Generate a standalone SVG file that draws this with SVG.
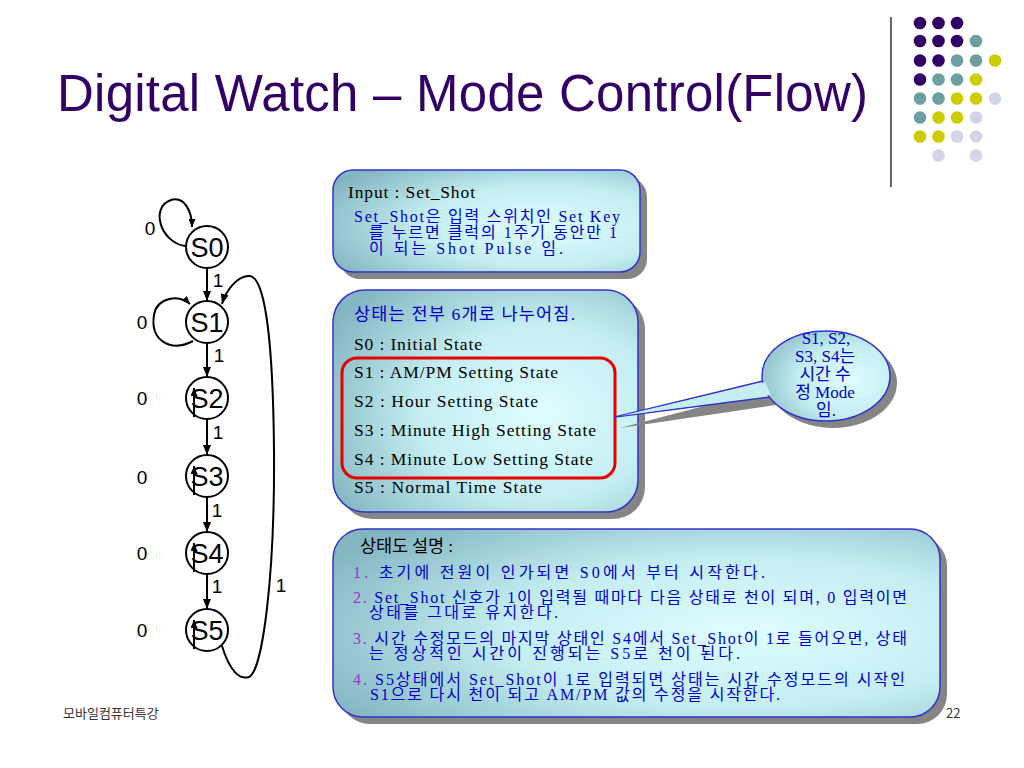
<svg xmlns="http://www.w3.org/2000/svg" width="1024" height="768" viewBox="0 0 1024 768">
<defs>
<radialGradient id="boxFill" cx="0.68" cy="0.55" r="0.78">
<stop offset="0" stop-color="#DFFDFF"/>
<stop offset="0.5" stop-color="#C4EEF2"/>
<stop offset="1" stop-color="#84B6C2"/>
</radialGradient>
<marker id="arr" markerWidth="10" markerHeight="8" refX="10" refY="4" orient="auto" markerUnits="userSpaceOnUse">
<path d="M0,0 L10,4 L0,8 Z" fill="#000"/>
</marker>
<marker id="arrS" markerWidth="8" markerHeight="7" refX="8" refY="3.5" orient="auto" markerUnits="userSpaceOnUse">
<path d="M0,0 L8,3.5 L0,7 Z" fill="#000"/>
</marker>
</defs>
<style>
.title{font-family:"Liberation Sans",Arial,sans-serif;font-size:51px;fill:#330066}
.st{font-family:"Liberation Sans",Arial,sans-serif;font-size:27px;fill:#000;text-anchor:middle}
.lbl{font-family:"Liberation Sans",Arial,sans-serif;font-size:19px;fill:#000;text-anchor:middle}
.node{fill:#fff;stroke:#000;stroke-width:2}
.edge{fill:none;stroke:#000;stroke-width:2}
.shadow{fill:#858585}
.box{fill:url(#boxFill);stroke:#3333CC;stroke-width:1.5}
.tk{font-family:"Liberation Serif","Noto Sans CJK KR",serif;font-size:17.5px;fill:#000}
.tbl{font-family:"Liberation Serif","Noto Sans CJK KR",serif;font-size:17.5px;fill:#0000CC}
.sm{font-size:16px}
.num{fill:#9933CC}
.call{font-family:"Liberation Serif","Noto Sans CJK KR",serif;font-size:17px;fill:#0000CC;text-anchor:middle}
.foot{font-family:"Noto Sans CJK KR","Liberation Sans",sans-serif;font-size:13px;fill:#333}
.p{fill:#330066}.t{fill:#6B9FA0}.y{fill:#CCCC00}.l{fill:#D4D4E8}
</style>
<rect width="1024" height="768" fill="#fff"/>

<g id="title">
<text class="title" x="57" y="111" textLength="811">Digital Watch – Mode Control(Flow)</text>
</g>

<g id="decoration">
<line x1="891" y1="17" x2="891" y2="187" stroke="#333" stroke-width="1.5"/>
<g>
<circle class="p" cx="920" cy="23" r="6.3"/><circle class="p" cx="938.5" cy="23" r="6.3"/><circle class="p" cx="957" cy="23" r="6.3"/>
<circle class="p" cx="920" cy="41" r="6.3"/><circle class="p" cx="938.5" cy="41" r="6.3"/><circle class="p" cx="957" cy="41" r="6.3"/><circle class="t" cx="976" cy="41" r="6.3"/>
<circle class="p" cx="920" cy="60.5" r="6.3"/><circle class="p" cx="938.5" cy="60.5" r="6.3"/><circle class="t" cx="957" cy="60.5" r="6.3"/><circle class="t" cx="976" cy="60.5" r="6.3"/><circle class="y" cx="995" cy="60.5" r="6.3"/>
<circle class="p" cx="920" cy="79.5" r="6.3"/><circle class="t" cx="938.5" cy="79.5" r="6.3"/><circle class="t" cx="957" cy="79.5" r="6.3"/><circle class="y" cx="976" cy="79.5" r="6.3"/>
<circle class="t" cx="920" cy="98.5" r="6.3"/><circle class="t" cx="938.5" cy="98.5" r="6.3"/><circle class="y" cx="957" cy="98.5" r="6.3"/><circle class="y" cx="976" cy="98.5" r="6.3"/><circle class="l" cx="995" cy="98.5" r="6.3"/>
<circle class="t" cx="920" cy="117.5" r="6.3"/><circle class="y" cx="938.5" cy="117.5" r="6.3"/><circle class="y" cx="957" cy="117.5" r="6.3"/><circle class="l" cx="976" cy="117.5" r="6.3"/>
<circle class="y" cx="920" cy="136.5" r="6.3"/><circle class="y" cx="938.5" cy="136.5" r="6.3"/><circle class="l" cx="957" cy="136.5" r="6.3"/><circle class="l" cx="976" cy="136.5" r="6.3"/>
<circle class="l" cx="938.5" cy="155.5" r="6.3"/><circle class="l" cx="976" cy="155.5" r="6.3"/>
</g>
</g>

<g id="connectors">
<path class="edge" marker-end="url(#arrS)" d="M185 246 C160 242 150 207 171 200 C185 196 192 212 192 227"/>
<path class="edge" marker-end="url(#arrS)" d="M193 341 C170 353 150 340 154 315 C157 297 180 294 190 304"/>
<line class="edge" marker-end="url(#arr)" x1="207" y1="268" x2="207" y2="301"/>
<line class="edge" marker-end="url(#arr)" x1="207" y1="343" x2="207" y2="377"/>
<line class="edge" marker-end="url(#arr)" x1="207" y1="419" x2="207" y2="455"/>
<line class="edge" marker-end="url(#arr)" x1="207" y1="497" x2="207" y2="532"/>
<line class="edge" marker-end="url(#arr)" x1="207" y1="574" x2="207" y2="609"/>
<path class="edge" marker-end="url(#arr)" d="M222 646 C230 672 240 680 249 677 C262 672 275 580 274 450 C273 340 265 278 250 276 C238 275 226 290 222 304"/>
<text class="lbl" x="150" y="235">0</text>
<text class="lbl" x="142" y="329">0</text>
<text class="lbl" x="142" y="405">0</text>
<text class="lbl" x="142" y="484">0</text>
<text class="lbl" x="142" y="560">0</text>
<text class="lbl" x="142" y="637">0</text>
<text class="lbl" x="218" y="287">1</text>
<text class="lbl" x="219" y="362">1</text>
<text class="lbl" x="218" y="439">1</text>
<text class="lbl" x="217" y="517">1</text>
<text class="lbl" x="217" y="593">1</text>
<text class="lbl" x="281" y="592">1</text>
</g>

<g id="S0"><circle class="node" cx="207" cy="247" r="21"/><text class="st" x="207" y="257">S0</text></g>
<g id="S1"><circle class="node" cx="207" cy="322" r="21"/><text class="st" x="207" y="332">S1</text></g>
<g id="S2"><circle class="node" cx="207" cy="398" r="21"/><text class="st" x="207" y="408">S2</text>
<line class="edge" marker-end="url(#arrS)" x1="194" y1="417" x2="194" y2="388"/></g>
<g id="S3"><circle class="node" cx="207" cy="476" r="21"/><text class="st" x="207" y="486">S3</text>
<line class="edge" marker-end="url(#arrS)" x1="194" y1="495" x2="194" y2="466"/></g>
<g id="S4"><circle class="node" cx="207" cy="553" r="21"/><text class="st" x="207" y="563">S4</text>
<line class="edge" marker-end="url(#arrS)" x1="194" y1="572" x2="194" y2="543"/></g>
<g id="S5"><circle class="node" cx="207" cy="630" r="21"/><text class="st" x="207" y="640">S5</text>
<line class="edge" marker-end="url(#arrS)" x1="194" y1="649" x2="194" y2="620"/></g>

<g id="input-box">
<rect class="shadow" x="340" y="177" width="307" height="102" rx="20"/>
<rect class="box" x="333" y="170" width="307" height="102" rx="20"/>
<text class="tk" x="348" y="198" textLength="127">Input : Set_Shot</text>
<text class="tbl sm" x="354" y="222" textLength="266">Set_Shot은 입력 스위치인 Set Key</text>
<text class="tbl sm" x="369" y="238" textLength="248">를 누르면 클럭의 1주기 동안만 1</text>
<text class="tbl sm" x="369" y="254" textLength="194">이 되는 Shot Pulse 임.</text>
</g>

<g id="state-box">
<rect class="shadow" x="340" y="297" width="305" height="222" rx="32"/>
<rect class="box" x="333" y="290" width="305" height="222" rx="32"/>
<text class="tbl" x="354" y="320" textLength="221">상태는 전부 6개로 나누어짐.</text>
<text class="tk" x="354" y="350" textLength="128">S0 : Initial State</text>
<text class="tk" x="354" y="378" textLength="204">S1 : AM/PM Setting State</text>
<text class="tk" x="354" y="407" textLength="184">S2 : Hour Setting State</text>
<text class="tk" x="354" y="436" textLength="242">S3 : Minute High Setting State</text>
<text class="tk" x="354" y="465" textLength="239">S4 : Minute Low Setting State</text>
<text class="tk" x="354" y="493" textLength="188">S5 : Normal Time State</text>
<rect x="342" y="358" width="273" height="120" rx="15" fill="none" stroke="#E60000" stroke-width="3"/>
</g>

<g id="callout">
<polygon class="shadow" points="769,389 620,428 776,405"/>
<ellipse class="shadow" cx="833" cy="383" rx="64" ry="45"/>
<polygon points="763,381 615,417 770,397" fill="#C4EEF2" stroke="#3333CC" stroke-width="1.5" stroke-linejoin="round"/>
<ellipse class="box" cx="826" cy="376" rx="64" ry="45"/>
<polygon points="765,382 620,416 771,395" fill="#C4EEF2"/>
<text class="call" x="826" y="344">S1, S2,</text>
<text class="call" x="825" y="362">S3, S4는</text>
<text class="call" x="825" y="380">시간 수</text>
<text class="call" x="825" y="398">정 Mode</text>
<text class="call" x="826" y="416">임.</text>
</g>

<g id="desc-box">
<rect class="shadow" x="340" y="536" width="607" height="188" rx="30"/>
<rect class="box" x="333" y="529" width="607" height="188" rx="30"/>
<text class="tk" x="360" y="552" textLength="93">상태도 설명 :</text>
<text class="tbl sm" x="353" y="578" textLength="412"><tspan class="num">1.</tspan> 초기에 전원이 인가되면 S0에서 부터 시작한다.</text>
<text class="tbl sm" x="353" y="603" textLength="554"><tspan class="num">2.</tspan> Set_Shot 신호가 1이 입력될 때마다 다음 상태로 천이 되며, 0 입력이면</text>
<text class="tbl sm" x="369" y="618" textLength="189">상태를 그대로 유지한다.</text>
<text class="tbl sm" x="353" y="644" textLength="554"><tspan class="num">3.</tspan> 시간 수정모드의 마지막 상태인 S4에서 Set_Shot이 1로 들어오면, 상태</text>
<text class="tbl sm" x="369" y="659" textLength="371">는 정상적인 시간이 진행되는 S5로 천이 된다.</text>
<text class="tbl sm" x="353" y="685" textLength="552"><tspan class="num">4.</tspan>  S5상태에서 Set_Shot이 1로 입력되면 상태는 시간 수정모드의 시작인</text>
<text class="tbl sm" x="370" y="700" textLength="410">S1으로 다시 천이 되고 AM/PM 값의 수정을 시작한다.</text>
</g>

<g id="footer">
<text class="foot" x="63" y="718">모바일컴퓨터특강</text>
<text class="foot" x="946" y="718" font-family="Liberation Sans, sans-serif">22</text>
</g>
</svg>
